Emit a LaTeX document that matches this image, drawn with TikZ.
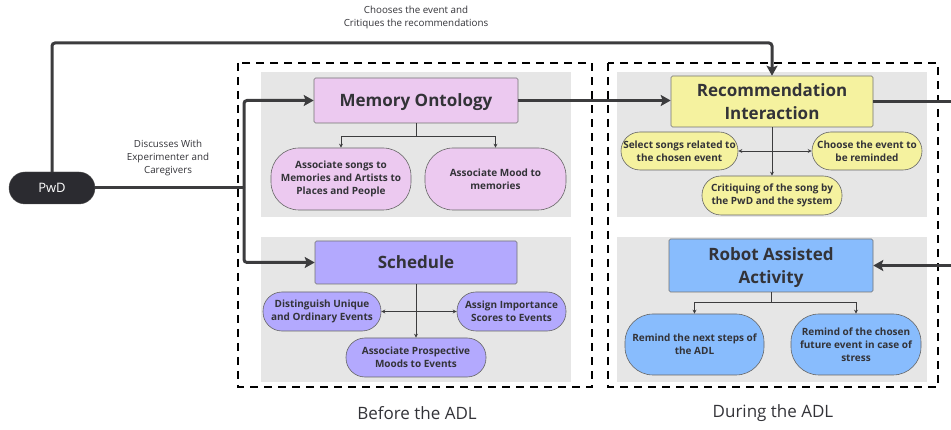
\documentclass[tikz,border=0pt]{standalone}
\usepackage{fontspec}
\setmainfont{Open Sans}
\usetikzlibrary{arrows.meta,calc}

\definecolor{inkdark}{HTML}{333338}
\definecolor{wire}{HTML}{3C3C3E}
\definecolor{panelgray}{HTML}{E6E6E6}
\definecolor{pinkfill}{HTML}{ECC9F0}
\definecolor{violetfill}{HTML}{B3A9FE}
\definecolor{yellowfill}{HTML}{F5F29F}
\definecolor{bluefill}{HTML}{88BCFD}
\definecolor{pwdfill}{HTML}{2B2B30}

\tikzset{
  panel/.style={fill=panelgray, draw=none},
  stage/.style={draw=black, line width=1.8pt, dash pattern=on 8pt off 6pt},
  mainbox/.style={draw=black!55, line width=0.6pt, rounded corners=1.5pt,
    align=center, text=inkdark, font=\fontsize{17}{23}\selectfont\bfseries,
    inner sep=0pt, text depth=0pt},
  pill/.style={draw=black!60, line width=0.6pt, align=center, text=inkdark,
    font=\fontsize{10}{13}\selectfont\bfseries, inner sep=0pt},
  bigwire/.style={draw=wire, line width=3pt, rounded corners=3pt},
  bigtip/.style={-{Stealth[length=10pt,width=11pt,inset=2pt]}},
  smallwire/.style={draw=wire, line width=0.8pt},
  smalltip/.style={-{Stealth[length=4pt,width=4pt]}},
  bothtips/.style={{Stealth[length=4pt,width=4pt]}-{Stealth[length=4pt,width=4pt]}},
  note/.style={align=center, text=inkdark, font=\fontsize{9.8}{13}\selectfont},
  stagelabel/.style={text=inkdark, font=\fontsize{17}{20}\selectfont}
}

\begin{document}
\begin{tikzpicture}[x=1pt,y=-1pt]
\useasboundingbox (0,0) rectangle (951,430);

% grey panels
\fill[panel] (261,72) rectangle (571,217);
\fill[panel] (261,237) rectangle (571,382);
\fill[panel] (617,72) rectangle (927,217);
\fill[panel] (617,237) rectangle (927,382);

% dashed stage frames
\draw[stage] (238,63) rectangle (592,387);
\draw[stage] (608,63) rectangle (938,387);

% stage labels
\node[stagelabel] (before) at (417,413) {Before the ADL};
\node[stagelabel] (during) at (773,413) {During the ADL};

% person node
\node[fill=pwdfill, draw=black!70, rounded corners=16pt, minimum width=86pt, minimum height=32pt,
  text=white, font=\fontsize{13}{15}\selectfont, inner sep=0pt] (pwd) at (52,188) {PwD};

% main boxes
\node[mainbox, fill=pinkfill, minimum width=204pt, minimum height=45pt] (mem) at (416,100.5) {Memory Ontology};
\node[mainbox, fill=violetfill, minimum width=202pt, minimum height=43pt] (sched) at (416,262.5) {Schedule};
\node[mainbox, fill=yellowfill, minimum width=202pt, minimum height=51pt] (rec) at (772,101.5) {Recommendation\\Interaction};
\node[mainbox, fill=bluefill, minimum width=204pt, minimum height=53pt] (robot) at (771,265.5) {Robot Assisted\\Activity};

% memory ontology tasks
\node[pill, fill=pinkfill, rounded corners=28pt, minimum width=140pt, minimum height=62pt] (memA) at (341,179)
  {Associate songs to\\Memories and Artists to\\Places and People};
\node[pill, fill=pinkfill, rounded corners=28pt, minimum width=141pt, minimum height=62pt] (memB) at (495.5,179)
  {Associate Mood to\\memories};

% schedule tasks
\node[pill, fill=violetfill, rounded corners=19pt, minimum width=118pt, minimum height=39pt] (schA) at (322,311.5)
  {Distinguish Unique\\and Ordinary Events};
\node[pill, fill=violetfill, rounded corners=19pt, minimum width=109pt, minimum height=39pt] (schB) at (511.5,311.5)
  {Assign Importance\\Scores to Events};
\node[pill, fill=violetfill, rounded corners=19pt, minimum width=140pt, minimum height=39pt] (schC) at (416,357.5)
  {Associate Prospective\\Moods to Events};

% recommendation tasks
\node[pill, fill=yellowfill, rounded corners=19pt, minimum width=117pt, minimum height=38pt] (recA) at (679.5,151)
  {Select songs related to\\the chosen event};
\node[pill, fill=yellowfill, rounded corners=19pt, minimum width=110pt, minimum height=38pt] (recB) at (867,151)
  {Choose the event to\\be reminded};
\node[pill, fill=yellowfill, rounded corners=19pt, minimum width=140pt, minimum height=39pt] (recC) at (772,195.5)
  {Critiquing of the song by\\the PwD and the system};

% robot tasks
\node[pill, fill=bluefill, rounded corners=28pt, minimum width=139pt, minimum height=61pt] (robA) at (694.5,344.5)
  {Remind the next steps of\\the ADL};
\node[pill, fill=bluefill, rounded corners=28pt, minimum width=130pt, minimum height=61pt] (robB) at (856,344.5)
  {Remind of the chosen\\future event in case of\\stress};

% edge labels
\node[note] (chooses) at (416,17) {Chooses the event and\\Critiques the recommendations};
\node[note] (discuss) at (168,158) {Discusses With\\Experimenter and\\Caregivers};

% helper coordinates
\coordinate (split) at (244,188);
\coordinate (topline) at (400,43);
\coordinate (outR) at (951,101.5);
\coordinate (inR) at (951,265.5);

% main connectors
\draw[bigwire] (pwd.east) -- (split);
\draw[bigwire, bigtip] (split) |- (mem.west);
\draw[bigwire, bigtip] (split) |- (sched.west);
\draw[bigwire, bigtip] (pwd.north) |- (topline) -| (rec.north);
\draw[bigwire, bigtip] (mem.east) -- (mem.east -| rec.west);
\draw[bigwire] (rec.east) -- (outR);
\draw[bigwire, bigtip] (inR) -- (robot.east);

% task connectors
\draw[smallwire, smalltip] (mem.south) -- ++(0,13) -| (memA.north);
\draw[smallwire, smalltip] (mem.south) -- ++(0,13) -| (memB.north);

\draw[smallwire, smalltip] (sched.south) -- (schC.north);
\draw[smallwire, bothtips] (schA.east) -- (schB.west);

\draw[smallwire, smalltip] (rec.south) -- (recC.north);
\draw[smallwire, bothtips] (recA.east) -- (recB.west);

\draw[smallwire, smalltip] (robot.south) -- ++(0,10) -| (robA.north);
\draw[smallwire, smalltip] (robot.south) -- ++(0,10) -| (robB.north);
\end{tikzpicture}
\end{document}
